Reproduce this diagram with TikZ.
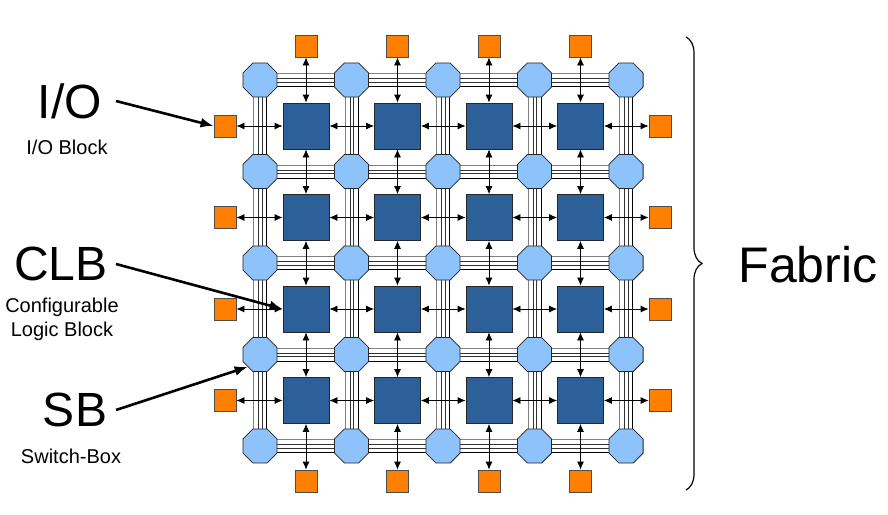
\documentclass[tikz,border=0pt]{standalone}
\usepackage{fontspec}
\setmainfont{Liberation Sans}
\usetikzlibrary{shapes.geometric,arrows.meta,decorations.pathreplacing}
\definecolor{clbc}{HTML}{2D5F99}
\definecolor{sbc}{HTML}{8EC2FA}
\definecolor{ioc}{HTML}{FF8000}
\tikzset{
 clb/.style={draw=black!85,line width=0.8pt,fill=clbc,minimum size=46pt,inner sep=0pt},
 sbox/.style={draw=black!85,line width=0.8pt,fill=sbc,regular polygon,regular polygon sides=8,minimum size=37pt,inner sep=0pt},
 iob/.style={draw=black!70,line width=0.8pt,fill=ioc,minimum size=22pt,inner sep=0pt},
 link/.style={{Latex[length=8pt,width=7pt]}-{Latex[length=8pt,width=7pt]},line width=0.8pt},
 wire/.style={line width=0.8pt},
 lbl/.style={-{Latex[length=13pt,width=10pt]},line width=2.6pt}
}
\begin{document}
\begin{tikzpicture}[x=1pt,y=-1pt]
\useasboundingbox (0,0) rectangle (888,514);
% channels
\foreach \i in {0,...,4}{
 \pgfmathsetmacro{\y}{80+91.5*\i}
 \pgfmathsetmacro{\x}{260+91.5*\i}
 \foreach \o/\c in {-6.5/black!50,-1.5/black!80,2/black!80,6.5/black}{
  \draw[wire,\c] (260,\y+\o) -- (626,\y+\o);
  \draw[wire,\c] (\x+\o,80) -- (\x+\o,446);
 }
}
% SBs
\foreach \i in {0,...,4}{\foreach \j in {0,...,4}{
 \node[sbox] (s\i\j) at (260+91.5*\i,80+91.5*\j) {};
}}
% CLBs
\foreach \i in {0,...,3}{\foreach \j in {0,...,3}{
 \node[clb] (c\i\j) at (306+91.5*\i,126+91.5*\j) {};
}}
% IOs
\foreach \i in {0,...,3}{
 \node[iob] (t\i) at (306+91.5*\i,46) {};
 \node[iob] (b\i) at (306+91.5*\i,481) {};
 \node[iob] (l\i) at (225,126+91.5*\i) {};
 \node[iob] (r\i) at (660,126+91.5*\i) {};
 \draw[link] (t\i) -- (c\i0);
 \draw[link] (c\i3) -- (b\i);
 \draw[link] (l\i) -- (c0\i);
 \draw[link] (c3\i) -- (r\i);
}
\foreach \i in {0,...,3}{\foreach \j/\k in {0/1,1/2,2/3}{
 \draw[link] (c\j\i) -- (c\k\i);
 \draw[link] (c\i\j) -- (c\i\k);
}}
% labels
\node (io) at (70,101) {\fontsize{48}{50}\selectfont I/O};
\node (iot) at (67,147) {\fontsize{20}{22}\selectfont I/O Block};
\node (cl) at (61,264) {\fontsize{48}{50}\selectfont CLB};
\node[align=center,font=\fontsize{20}{24}\selectfont] (clt) at (62,319) {Configurable\\Logic Block};
\node (sb) at (75,410) {\fontsize{48}{50}\selectfont SB};
\node (sbt) at (71,456) {\fontsize{20}{22}\selectfont Switch-Box};
\node (fab) at (808,265) {\fontsize{50}{52}\selectfont Fabric};
\coordinate (ioe) at (116,101);
\coordinate (cle) at (116,264);
\coordinate (sbe) at (116,410);
\draw[lbl] (ioe) -- (l0.west);
\draw[lbl] (cle) -- (c02.west);
\draw[lbl] (sbe) -- (s03.south west);
\draw[line width=1.2pt,decorate,decoration={brace,amplitude=16pt}] (686,37) -- (686,490);
\end{tikzpicture}
\end{document}
